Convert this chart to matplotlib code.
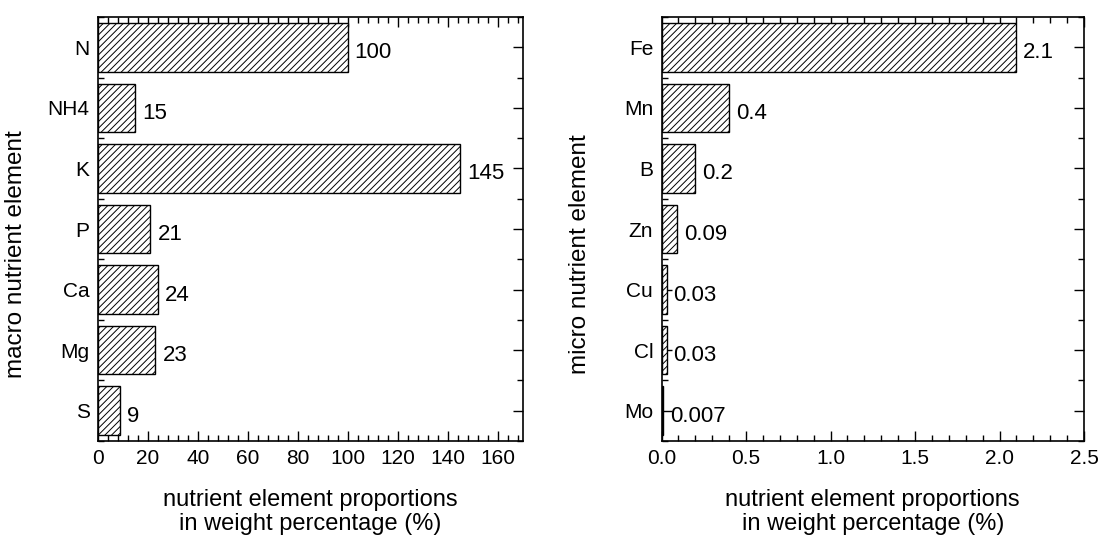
import matplotlib
matplotlib.use("Agg")
import matplotlib.pyplot as plt
from matplotlib.ticker import MultipleLocator, FixedLocator
import numpy as np

plt.rcParams['font.family'] = ['Liberation Sans', 'DejaVu Sans']
plt.rcParams['hatch.linewidth'] = 0.7

macro_labels = ["N", "NH4", "K", "P", "Ca", "Mg", "S"]
macro_values = [100, 15, 145, 21, 24, 23, 9]
macro_texts = ["100", "15", "145", "21", "24", "23", "9"]

micro_labels = ["Fe", "Mn", "B", "Zn", "Cu", "Cl", "Mo"]
micro_values = [2.1, 0.4, 0.2, 0.09, 0.03, 0.03, 0.007]
micro_texts = ["2.1", "0.4", "0.2", "0.09", "0.03", "0.03", "0.007"]

W, H = 1101, 541
fig = plt.figure(figsize=(W / 100, H / 100), dpi=100)

def px_axes(x0, x1, y0, y1):
    return fig.add_axes([x0 / W, (H - y1) / H, (x1 - x0) / W, (y1 - y0) / H])

ax1 = px_axes(98, 522.5, 17, 441)
ax2 = px_axes(661.5, 1084, 17, 441)

def draw(ax, labels, values, texts, xmax, major, minor, ylabel, fmt):
    n = len(labels)
    y = np.arange(n)
    ax.barh(y, values, height=0.8, color='white', edgecolor='black',
            linewidth=1.0, hatch='/////', zorder=2)
    for yi, v, t in zip(y, values, texts):
        ax.annotate(t, (v, yi), xytext=(5, -4), textcoords='offset points',
                    ha='left', va='center', fontsize=16)
    ax.set_ylim(n - 0.5, -0.5)
    ax.set_xlim(0, xmax)
    ax.set_yticks(y)
    ax.set_yticklabels(labels, fontsize=15)
    ax.yaxis.set_minor_locator(FixedLocator(np.arange(-0.5, n, 1.0)))
    ax.xaxis.set_major_locator(MultipleLocator(major))
    ax.xaxis.set_minor_locator(MultipleLocator(minor))
    ax.xaxis.set_major_formatter(plt.FuncFormatter(fmt))
    ax.tick_params(which='both', direction='in', top=True, right=True,
                   width=1.0, labelsize=15, zorder=3)
    ax.tick_params(which='major', length=7, pad=6)
    ax.tick_params(which='minor', length=4)
    for s in ax.spines.values():
        s.set_linewidth(1.2)
        s.set_zorder(4)
    ax.set_xlabel("nutrient element proportions\nin weight percentage (%)",
                  fontsize=17, labelpad=15, linespacing=1.1)
    ax.set_ylabel(ylabel, fontsize=17.5)
    ax.yaxis.set_label_coords(-0.168, 0.44)

draw(ax1, macro_labels, macro_values, macro_texts, 170, 20, 4,
     "macro nutrient element", lambda v, p: f"{v:.0f}")
draw(ax2, micro_labels, micro_values, micro_texts, 2.5, 0.5, 0.1,
     "micro nutrient element", lambda v, p: f"{v:.1f}")

fig.savefig("out.png", dpi=100)
